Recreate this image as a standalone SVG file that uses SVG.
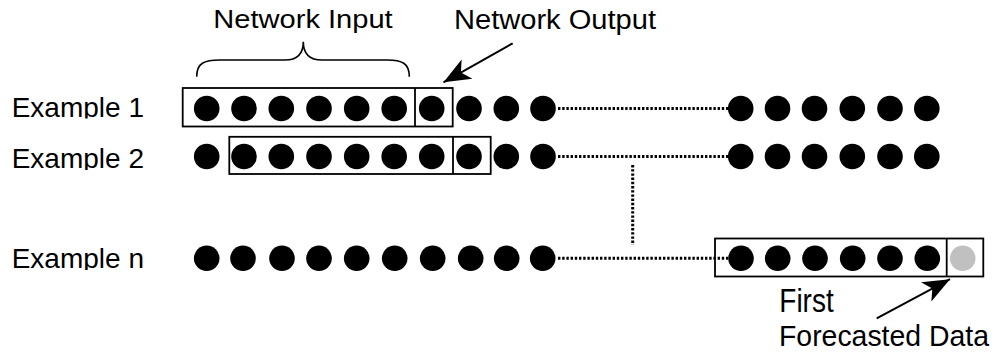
<svg xmlns="http://www.w3.org/2000/svg" width="997" height="352" viewBox="0 0 997 352">
<style>
.lbl{font-family:"Liberation Sans",Arial,sans-serif;fill:#000}
.dot{fill:#000}
.grey{fill:#c0c0c0}
.box{fill:none;stroke:#000;stroke-width:1.8}
.dotted{fill:none;stroke:#000;stroke-width:3;stroke-dasharray:2.4 1.8}
.arrow{fill:none;stroke:#000;stroke-width:2}
.brace{fill:none;stroke:#000;stroke-width:1.6}
</style>
<defs>
<marker id="arr" markerUnits="userSpaceOnUse" markerWidth="32" markerHeight="26" viewBox="-29 -13 32 26" refX="0" refY="0" orient="auto">
<path d="M0,0 L-27,-11 L-20,0 L-27,11 z" fill="#000"/>
</marker>
<clipPath id="c1"><rect x="0" y="80" width="170" height="38.5"/></clipPath>
<clipPath id="c2"><rect x="0" y="130" width="170" height="40"/></clipPath>
<clipPath id="cn"><rect x="0" y="230" width="170" height="40"/></clipPath>
</defs>
<rect width="997" height="352" fill="#fff"/>

<g id="labels">
<text class="lbl" x="11.7" y="116.7" font-size="28" clip-path="url(#c1)">Example 1</text>
<text class="lbl" x="11.7" y="168.3" font-size="28" clip-path="url(#c2)">Example 2</text>
<text class="lbl" x="11.7" y="268.3" font-size="28" clip-path="url(#cn)">Example n</text>
</g>

<g id="network-input">
<text class="lbl" x="213.3" y="28.3" font-size="25.6" textLength="179.4" lengthAdjust="spacingAndGlyphs">Network Input</text>
<path class="brace" d="M196.7,76.7 C196.7,63 204,60 220,60 L285,60 C298,60 303.3,53 303.3,41.7 C303.3,53 309,60 322,60 L387,60 C402,60 409.3,63 409.3,76.7"/>
</g>

<g id="network-output">
<text class="lbl" x="454" y="29.3" font-size="27" textLength="202" lengthAdjust="spacingAndGlyphs">Network Output</text>
</g>

<g id="first-forecasted">
<text class="lbl" transform="translate(779.3,311.5) scale(1,1.18)" font-size="28">First</text>
<text class="lbl" x="779" y="346" font-size="29" textLength="210" lengthAdjust="spacingAndGlyphs">Forecasted Data</text>
</g>

<g id="connectors">
<line class="dotted" x1="558" y1="108.5" x2="728" y2="108.5"/>
<line class="dotted" x1="558" y1="156.5" x2="728" y2="156.5"/>
<line class="dotted" x1="558" y1="258.3" x2="728" y2="258.3"/>
<line class="dotted" x1="632.7" y1="165" x2="632.7" y2="245"/>
<line class="arrow" x1="512.7" y1="43.3" x2="443.5" y2="82.3" marker-end="url(#arr)"/>
<line class="arrow" x1="876.7" y1="318.3" x2="950" y2="279.2" marker-end="url(#arr)"/>
</g>

<g id="example-1">
<rect class="box" x="182.7" y="88" width="270" height="38.5"/>
<line class="box" x1="415" y1="88" x2="415" y2="126.5"/>
<g class="dot">
<circle cx="206.7" cy="108.5" r="12.8"/><circle cx="244" cy="108.5" r="12.8"/><circle cx="281.3" cy="108.5" r="12.8"/><circle cx="319" cy="108.5" r="12.8"/><circle cx="356.7" cy="108.5" r="12.8"/><circle cx="394.2" cy="108.5" r="12.8"/><circle cx="431.7" cy="108.5" r="12.8"/><circle cx="469" cy="108.5" r="12.8"/><circle cx="506.3" cy="108.5" r="12.8"/><circle cx="543" cy="108.5" r="12.8"/>
<circle cx="740.7" cy="108.5" r="12.8"/><circle cx="777.5" cy="108.5" r="12.8"/><circle cx="814.5" cy="108.5" r="12.8"/><circle cx="852.3" cy="108.5" r="12.8"/><circle cx="890" cy="108.5" r="12.8"/><circle cx="926.8" cy="108.5" r="12.8"/>
</g>
</g>

<g id="example-2">
<rect class="box" x="229.3" y="136.8" width="261.4" height="37.2"/>
<line class="box" x1="453" y1="136.8" x2="453" y2="174"/>
<g class="dot">
<circle cx="206.7" cy="156.5" r="12.8"/><circle cx="244" cy="156.5" r="12.8"/><circle cx="281.3" cy="156.5" r="12.8"/><circle cx="319" cy="156.5" r="12.8"/><circle cx="356.7" cy="156.5" r="12.8"/><circle cx="394.2" cy="156.5" r="12.8"/><circle cx="431.7" cy="156.5" r="12.8"/><circle cx="469" cy="156.5" r="12.8"/><circle cx="506.3" cy="156.5" r="12.8"/><circle cx="543" cy="156.5" r="12.8"/>
<circle cx="740.7" cy="156.5" r="12.8"/><circle cx="777.5" cy="156.5" r="12.8"/><circle cx="814.5" cy="156.5" r="12.8"/><circle cx="852.3" cy="156.5" r="12.8"/><circle cx="890" cy="156.5" r="12.8"/><circle cx="926.8" cy="156.5" r="12.8"/>
</g>
</g>

<g id="example-n">
<rect class="box" x="715" y="238.5" width="268.3" height="38"/>
<line class="box" x1="946.7" y1="238.5" x2="946.7" y2="276.5"/>
<g class="dot">
<circle cx="206.7" cy="258.3" r="12.8"/><circle cx="243" cy="258.3" r="12.8"/><circle cx="282" cy="258.3" r="12.8"/><circle cx="319" cy="258.3" r="12.8"/><circle cx="356.7" cy="258.3" r="12.8"/><circle cx="394.7" cy="258.3" r="12.8"/><circle cx="432.7" cy="258.3" r="12.8"/><circle cx="470.7" cy="258.3" r="12.8"/><circle cx="506.7" cy="258.3" r="12.8"/><circle cx="542.7" cy="258.3" r="12.8"/>
<circle cx="741" cy="258.3" r="12.8"/><circle cx="777.7" cy="258.3" r="12.8"/><circle cx="815" cy="258.3" r="12.8"/><circle cx="852.7" cy="258.3" r="12.8"/><circle cx="890" cy="258.3" r="12.8"/><circle cx="927.3" cy="258.3" r="12.8"/>
</g>
<circle class="grey" cx="962.7" cy="258.3" r="12.8"/>
</g>
</svg>
